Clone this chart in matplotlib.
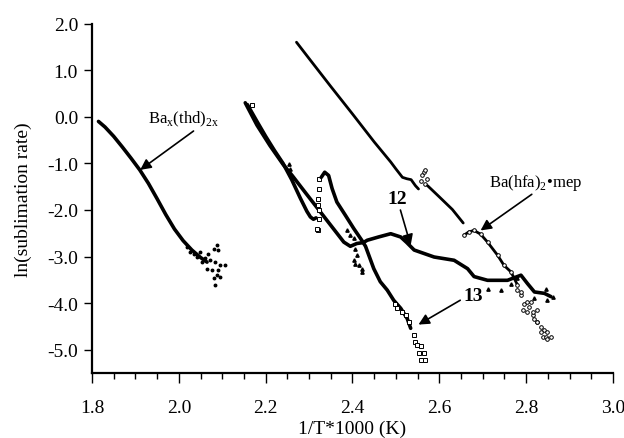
import matplotlib
matplotlib.use("Agg")
import matplotlib.pyplot as plt
from matplotlib.ticker import MultipleLocator, FormatStrFormatter

plt.rcParams['font.family'] = ['Liberation Serif', 'DejaVu Serif']
plt.rcParams['axes.unicode_minus'] = False
plt.rcParams['mathtext.fontset'] = 'custom'
plt.rcParams['mathtext.rm'] = 'Liberation Serif'

# ---- Ba_x(thd)_2x : dense curve + noisy tail ----
thd_x = [1.815, 1.83, 1.85, 1.87, 1.89, 1.91, 1.93, 1.95, 1.97, 1.99, 2.01, 2.03, 2.05, 2.065]
thd_y = [-0.10, -0.22, -0.42, -0.65, -0.89, -1.14, -1.43, -1.76, -2.10, -2.41, -2.66, -2.86, -3.02, -3.12]
thd_nx = [2.049, 2.061, 2.068, 2.080, 2.088, 2.091, 2.084, 2.072, 2.065, 2.076, 2.091, 2.095,
          2.107, 2.088, 2.080, 2.095, 2.084, 2.042, 2.053, 2.034, 2.019, 2.026]
thd_ny = [-2.90, -3.04, -2.94, -2.83, -2.76, -2.86, -3.11, -3.08, -3.26, -3.29, -3.29, -3.19,
          -3.19, -3.40, -3.47, -3.43, -3.61, -3.01, -3.11, -2.94, -2.79, -2.90]

# ---- Ba(hfa)2*mep : three segments + noisy tail ----
hfa_x1 = [2.271, 2.30, 2.35, 2.40, 2.45, 2.488, 2.50, 2.515, 2.525, 2.535, 2.545, 2.552]
hfa_y1 = [1.60, 1.25, 0.65, 0.06, -0.54, -0.97, -1.12, -1.30, -1.33, -1.35, -1.48, -1.55]
hfa_bx = [2.557, 2.561, 2.565, 2.568, 2.571, 2.566]
hfa_by = [-1.37, -1.26, -1.19, -1.15, -1.33, -1.44]
hfa_x2 = [2.573, 2.60, 2.63, 2.655]
hfa_y2 = [-1.48, -1.72, -1.99, -2.28]
hfa_x3 = [2.657, 2.668, 2.680, 2.695, 2.711, 2.734, 2.749, 2.765, 2.780]
hfa_y3 = [-2.54, -2.47, -2.44, -2.52, -2.69, -2.97, -3.19, -3.33, -3.61]
hfa_nx = [2.780, 2.788, 2.796, 2.807, 2.803, 2.815, 2.819, 2.826, 2.834, 2.842, 2.849, 2.857,
          2.838, 2.846, 2.826, 2.811, 2.792, 2.788, 2.803, 2.815, 2.826, 2.833, 2.849]
hfa_ny = [-3.72, -3.83, -4.01, -4.08, -4.18, -4.26, -4.33, -4.40, -4.51, -4.58, -4.61, -4.72,
          -4.72, -4.72, -4.15, -3.97, -4.15, -3.76, -3.97, -4.18, -4.40, -4.61, -4.76]

# ---- compound 12 (triangles) ----
c12_x = [2.153, 2.18, 2.21, 2.24, 2.261, 2.29, 2.32, 2.35, 2.38, 2.395, 2.41, 2.425, 2.434,
         2.46, 2.488, 2.511, 2.525, 2.542, 2.588, 2.634, 2.665, 2.680, 2.711, 2.757, 2.788,
         2.803, 2.819, 2.842, 2.857]
c12_y = [0.30, -0.18, -0.62, -1.02, -1.26, -1.61, -1.97, -2.33, -2.69, -2.78, -2.72, -2.70, -2.65,
         -2.58, -2.51, -2.58, -2.70, -2.86, -3.01, -3.08, -3.26, -3.43, -3.51, -3.51, -3.40,
         -3.58, -3.76, -3.79, -3.86]
c12_nx = [2.253, 2.257, 2.388, 2.395, 2.403, 2.406, 2.410, 2.406, 2.414, 2.422, 2.403, 2.422,
          2.711, 2.741, 2.765, 2.780, 2.819, 2.849, 2.861, 2.846]
c12_ny = [-1.01, -1.12, -2.44, -2.54, -2.61, -2.83, -2.97, -3.15, -3.19, -3.26, -3.08, -3.33,
          -3.69, -3.72, -3.58, -3.47, -3.90, -3.94, -3.86, -3.69]

# ---- compound 13 (squares) ----
c13_xa = [2.158, 2.18, 2.20, 2.22, 2.24, 2.26, 2.28, 2.295, 2.303, 2.310, 2.316]
c13_ya = [0.26, -0.10, -0.42, -0.72, -1.00, -1.35, -1.75, -2.03, -2.15, -2.20, -2.17]
c13_cx = [2.168, 2.322, 2.322, 2.320, 2.321, 2.322, 2.324, 2.320, 2.318]
c13_cy = [0.255, -1.33, -1.54, -1.76, -1.90, -2.01, -2.19, -2.44, -2.40]
c13_xb = [2.328, 2.336, 2.345, 2.353, 2.364, 2.384, 2.403, 2.422, 2.430, 2.449, 2.464, 2.480,
          2.495, 2.511, 2.526, 2.534]
c13_yb = [-1.30, -1.19, -1.26, -1.54, -1.83, -2.12, -2.40, -2.66, -2.78, -3.26, -3.54, -3.72,
          -3.94, -4.11, -4.33, -4.54]
c13_nx = [2.503, 2.515, 2.523, 2.498, 2.530, 2.542, 2.545, 2.549, 2.557, 2.553, 2.565, 2.557, 2.568]
c13_ny = [-4.11, -4.20, -4.26, -4.02, -4.40, -4.69, -4.83, -4.90, -4.93, -5.08, -5.08, -5.22, -5.22]

fig = plt.figure(figsize=(6.24, 4.39), dpi=100)
ax = fig.add_axes([0.1474, 0.148, 0.835, 0.796])

k = dict(color='black', solid_capstyle='round', solid_joinstyle='round')
ax.plot(thd_x, thd_y, lw=2.6, **k)
ax.plot(thd_nx, thd_ny, ls='none', marker='o', ms=1.8, color='black')

ax.plot(hfa_x1, hfa_y1, lw=2.0, **k)
ax.plot(hfa_bx, hfa_by, ls='none', marker='o', ms=2.6, mfc='white', mec='black', mew=0.7)
ax.plot(hfa_x2, hfa_y2, lw=2.0, **k)
ax.plot(hfa_x3, hfa_y3, lw=2.0, **k)
ax.plot(hfa_x3, hfa_y3, ls='none', marker='o', ms=2.6, mfc='white', mec='black', mew=0.7)
ax.plot(hfa_nx, hfa_ny, ls='none', marker='o', ms=2.6, mfc='white', mec='black', mew=0.7)

ax.plot(c12_x, c12_y, lw=2.6, **k)
ax.plot(c12_nx, c12_ny, ls='none', marker='^', ms=2.4, color='black')

ax.plot(c13_xa, c13_ya, lw=2.6, **k)
ax.plot(c13_cx, c13_cy, ls='none', marker='s', ms=2.4, mfc='white', mec='black', mew=0.7)
ax.plot(c13_xb, c13_yb, lw=2.6, **k)
ax.plot(c13_nx, c13_ny, ls='none', marker='s', ms=2.6, mfc='white', mec='black', mew=0.7)

ax.set_xlim(1.8, 3.0)
ax.set_ylim(-5.5, 2.0)
ax.xaxis.set_major_locator(MultipleLocator(0.2))
ax.xaxis.set_minor_locator(MultipleLocator(0.05))
ax.yaxis.set_major_locator(MultipleLocator(1.0))
ax.xaxis.set_major_formatter(FormatStrFormatter('%.1f'))
ax.yaxis.set_major_formatter(FormatStrFormatter('%.1f'))
ax.spines['top'].set_visible(False)
ax.spines['right'].set_visible(False)
ax.spines['left'].set_linewidth(1.6)
ax.spines['bottom'].set_linewidth(1.6)
ax.tick_params(axis='x', which='major', direction='out', length=7, width=1.0, pad=12, labelsize=14)
ax.tick_params(axis='x', which='minor', direction='out', length=4, width=1.0)
ax.tick_params(axis='y', which='major', direction='out', length=6, width=1.0, pad=4, labelsize=14)
ax.set_xlabel('1/T*1000 (K)', fontsize=14, labelpad=2)
ax.set_ylabel('ln(sublimation rate)', fontsize=14, labelpad=11)

ap = dict(arrowstyle='-|>', color='black', lw=1.2, mutation_scale=16, shrinkA=0, shrinkB=0)
ax.annotate(r'Ba$_{\mathregular{x}}$(thd)$_{\mathregular{2x}}$', xy=(1.911, -1.14), xytext=(2.01, -0.04),
            ha='center', va='center', fontsize=12, arrowprops=dict(ap, relpos=(0.7, 0.0)))
ax.annotate(r'Ba(hfa)$_{\mathregular{2}}$•mep', xy=(2.695, -2.44), xytext=(2.822, -1.39),
            ha='center', va='center', fontsize=12, arrowprops=dict(ap, relpos=(0.5, 0.0)))
ax.annotate('12', xy=(2.534, -2.76), xytext=(2.504, -1.76), ha='center', va='center',
            fontsize=14, fontweight='bold', arrowprops=dict(ap, relpos=(0.6, 0.0)))
ax.annotate('13', xy=(2.552, -4.46), xytext=(2.677, -3.83), ha='center', va='center',
            fontsize=14, fontweight='bold', arrowprops=dict(ap, relpos=(0.0, 0.3)))

fig.savefig('out.png', dpi=100)
